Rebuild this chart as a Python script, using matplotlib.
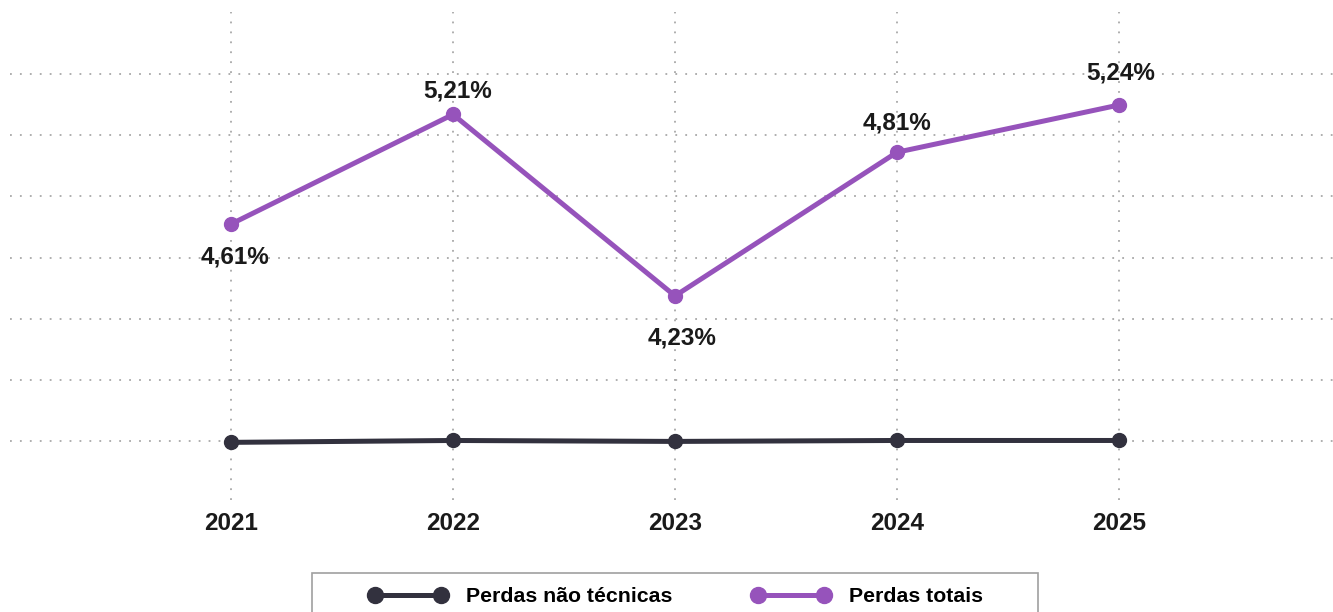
import numpy as np
import matplotlib.pyplot as plt
from matplotlib.patches import Rectangle

# Dados
anos = ["2021", "2022", "2023", "2024", "2025"]
perdas_totais = [4.61, 5.19, 4.23, 4.99, 5.24]
rotulos_totais = ["4,61%", "5,21%", "4,23%", "4,81%", "5,24%"]
perdas_nao_tecnicas = [3.455, 3.465, 3.46, 3.465, 3.465]

# posicao dos rotulos: deslocamento em pontos
desloc_rotulos = [(3, -24), (3, 17), (5, -30), (0, 21), (1, 23)]

cor_roxo = "#9653bb"
cor_escuro = "#32313e"
fonte = ["Liberation Sans", "DejaVu Sans"]

fig = plt.figure(figsize=(13.33, 6.12), dpi=100)
ax = fig.add_axes([10 / 1333, 1 - 500 / 612, 1 - 10 / 1333, (500 - 12) / 612])

x = np.arange(len(anos))
ax.plot(x, perdas_nao_tecnicas, color=cor_escuro, lw=3.6, marker="o", ms=10,
        solid_capstyle="round", label="Perdas não técnicas", zorder=3)
ax.plot(x, perdas_totais, color=cor_roxo, lw=3.6, marker="o", ms=10,
        solid_capstyle="round", label="Perdas totais", zorder=3)

for xi, yi, txt, (dx, dy) in zip(x, perdas_totais, rotulos_totais, desloc_rotulos):
    ax.annotate(txt, (xi, yi), xytext=(dx, dy), textcoords="offset points",
                ha="center", va="center", fontsize=17.5, fontweight="bold",
                family=fonte, color="#1a1a1a")

ax.set_xlim(-(231 - 10) / 222, 4 + (1333 - 1119) / 222)
ax.set_ylim(5.24 - (500 - 105) / 189, 5.24 + (105 - 12) / 189)
ax.set_yticks(np.linspace(5.24 - (441 - 105) / 189, 5.24 + (105 - 74) / 189, 7))
ax.set_xticks(x)
ax.set_xticklabels(anos, fontsize=17.5, fontweight="bold", family=fonte, color="#1a1a1a")
ax.tick_params(axis="x", length=0, pad=9)
ax.tick_params(axis="y", length=0, labelleft=False)
ax.grid(True, color="#a8a8a8", ls=(0, (1, 4.5)), lw=1.3)
for s in ax.spines.values():
    s.set_visible(False)

leg = fig.legend(loc="center", bbox_to_anchor=(676 / 1333, 1 - 597 / 612), ncol=2,
                 frameon=False, numpoints=2, handlelength=3.7, handletextpad=0.9,
                 columnspacing=3.7, markerscale=1.15,
                 prop={"family": fonte, "weight": "bold", "size": 15.3})
fig.patches.append(Rectangle((312 / 1333, -0.05), (1038 - 312) / 1333, 1 - 573 / 612 + 0.05,
                             transform=fig.transFigure, fill=False, ec="#a0a0a0", lw=1.2))

fig.savefig("out.png", dpi=100)
